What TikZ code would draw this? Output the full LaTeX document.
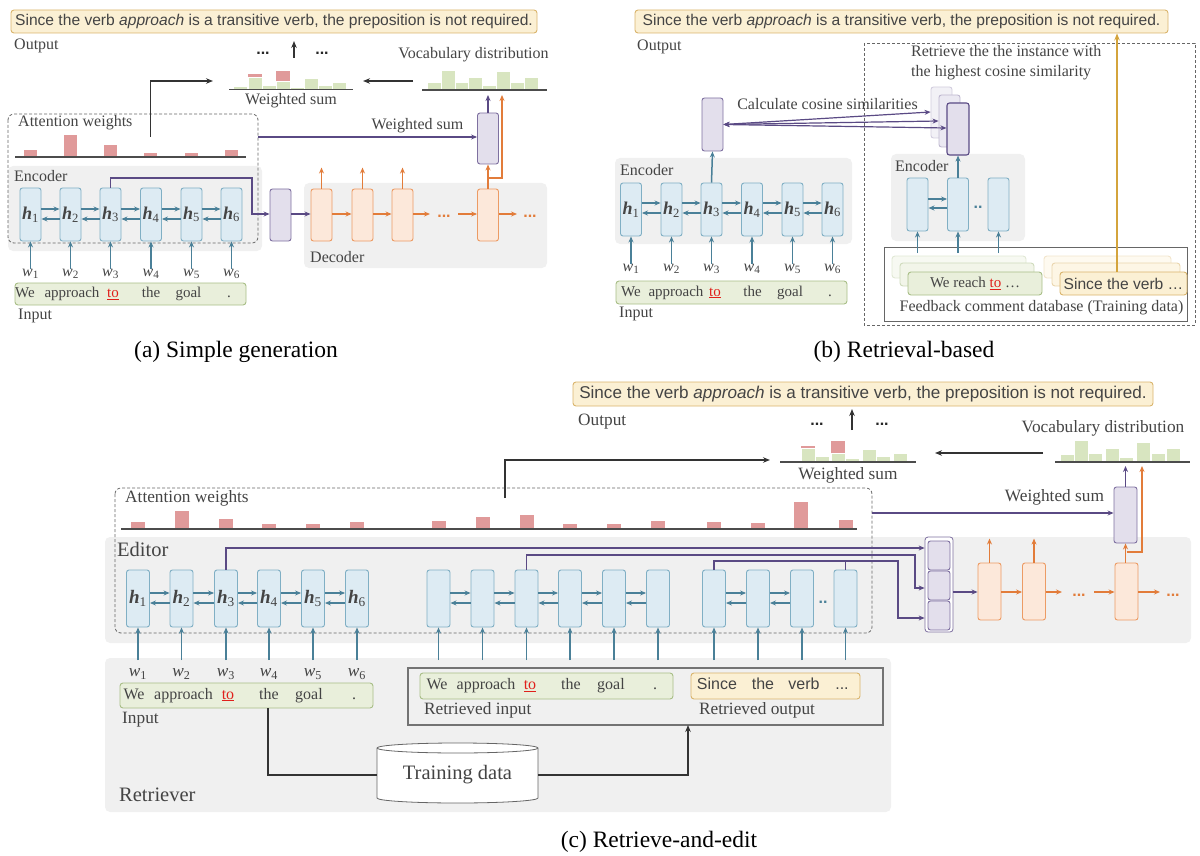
\documentclass[tikz,border=0pt]{standalone}
\usepackage{fontspec}
\setmainfont{Liberation Serif}
\newfontfamily\sansf{Liberation Sans}
\usetikzlibrary{arrows.meta}
\definecolor{bfill}{HTML}{DDEBF3}
\definecolor{bdraw}{HTML}{80AFC4}
\definecolor{barr}{HTML}{4A8098}
\definecolor{pfill}{HTML}{E3DFEC}
\definecolor{pdraw}{HTML}{7E70A0}
\definecolor{parr}{HTML}{5A4A84}
\definecolor{ofill}{HTML}{FCE8DA}
\definecolor{odraw}{HTML}{EC9B64}
\definecolor{oarr}{HTML}{E27C3A}
\definecolor{gpanel}{HTML}{F0F0F0}
\definecolor{gfill}{HTML}{E9EFDB}
\definecolor{gdraw}{HTML}{A8BE86}
\definecolor{yfill}{HTML}{FBF0D4}
\definecolor{ydraw}{HTML}{D9B46C}
\definecolor{yline}{HTML}{D4A43C}
\definecolor{redbar}{HTML}{E09A9A}
\definecolor{grnbar}{HTML}{D8E5C0}
\definecolor{txt}{HTML}{444444}
\definecolor{tored}{HTML}{E0201B}
\definecolor{kline}{HTML}{333333}
\newcommand\szA{\fontsize{16}{20}\selectfont}
\newcommand\szC{\fontsize{17.3}{21}\selectfont}
\newcommand\szW{\fontsize{15}{18}\selectfont}
\newcommand\szB{\fontsize{20.5}{24}\selectfont}
\newcommand\szCap{\fontsize{23.5}{27}\selectfont}
\newcommand\szY{\fontsize{15.6}{18}\selectfont}
\newcommand\szYC{\fontsize{17.1}{20}\selectfont}
\newcommand\szH{\fontsize{18}{20}\selectfont}
\newcommand\szHC{\fontsize{19}{21}\selectfont}
\newcommand\hlab[1]{\textbf{\textit{h}}\textsubscript{#1}}
\newcommand\wlab[1]{\textit{w}\textsubscript{#1}}
\newcommand\redto{\textcolor{tored}{\underline{to}}}
\begin{document}
\begin{tikzpicture}[x=1pt,y=-1pt,
 lab/.style={text=txt, inner sep=0pt, font=\szA},
 labw/.style={lab, anchor=west},
 cellbase/.style={rounded corners=2.5pt, line width=0.9pt, inner sep=0pt, minimum width=21pt, minimum height=53pt, text=txt, font=\szH},
 hcell/.style={cellbase, draw=bdraw, fill=bfill},
 pcell/.style={cellbase, draw=pdraw, fill=pfill},
 ocell/.style={cellbase, draw=odraw, fill=ofill},
 barrow/.style={draw=barr, line width=1.5pt, -{Stealth[length=6pt,width=5pt]}},
 parrow/.style={draw=parr, line width=1.4pt, -{Stealth[length=6pt,width=5pt]}},
 pboth/.style={draw=parr, line width=1.2pt, {Stealth[length=6pt,width=5pt]}-{Stealth[length=6pt,width=5pt]}},
 oarrow/.style={draw=oarr, line width=1.4pt, -{Stealth[length=6pt,width=5pt]}},
 karrow/.style={draw=kline, line width=1.4pt, -{Stealth[length=7pt,width=5.5pt]}},
 ybox/.style={draw=ydraw, fill=yfill, rounded corners=3pt, line width=0.9pt, inner sep=0pt, text=txt},
 gbox/.style={draw=gdraw, fill=gfill, rounded corners=3pt, line width=0.9pt, inner sep=0pt, text=txt},
 panel/.style={fill=gpanel, rounded corners=5pt},
 attbox/.style={draw=black!60, dash pattern=on 3pt off 2pt, line width=0.8pt, rounded corners=6pt},
 axisl/.style={draw=black!70, line width=1.4pt},
 rbar/.style={fill=redbar},
 gbar/.style={fill=grnbar, draw=white, line width=0.4pt},
 word/.style={text=txt, inner sep=0pt, font=\szW, text height=10pt, text depth=3pt},
 dotsty/.style={inner sep=0pt, font=\sansf\bfseries\szA, anchor=base},
 captext/.style={inner sep=0pt, font=\szCap, text=black},
]
\useasboundingbox (0,0) rectangle (1200,856);

% ======================= (a) =======================
\fill[panel] (8,166) rectangle (262,251);
\fill[panel] (304,183) rectangle (547,268);
\draw[attbox] (8,114) rectangle (258,243);
\node[ybox, minimum width=526pt, minimum height=23pt, font=\sansf\szY] (aout) at (274,21.5) {Since the verb \textit{approach} is a transitive verb, the preposition is not required.};
\node[labw] (aoutl) at (14,46) {Output};
\node[dotsty, text=black!85] (adots1) at (263,55) {...};
\node[dotsty, text=black!85] (adots2) at (322,55) {...};
\coordinate (aup1) at (294,58); \coordinate (aup2) at (294,41);
\draw[karrow] (aup1) -- (aup2);
% weighted sum chart
\foreach \x/\t in {233/86,248/77,262/85,276/81,290/87,304/78,318/85,332/82}
  \fill[gbar] (\x,89) rectangle (\x+14,\t);
\fill[rbar] (248,77.3) rectangle (262,74.5);
\fill[rbar] (276,81.3) rectangle (290,71);
\draw[axisl] (229,89.5) -- (353,89.5);
\node[lab] (awsl) at (291,101) {Weighted sum};
% vocabulary chart
\foreach \x/\t in {427/82,441/70,455/82,468/77,482/85,496/71,510/82,524/77}
  \fill[gbar] (\x,89) rectangle (\x+14,\t);
\draw[axisl] (422,90) -- (547,90);
\node[lab] (avdl) at (473.5,55) {Vocabulary distribution};
\coordinate (avl) at (413,81); \coordinate (awr) at (363,81);
\draw[karrow] (avl) -- (awr);
% attention
\node[labw] (aatt) at (18,123) {Attention weights};
\foreach \x/\t in {30.5/150,70.5/135,110.5/145,150.5/153,191/153,231/150}
  \fill[rbar] (\x-6.5,157) rectangle (\x+6.5,\t);
\draw[axisl] (15,157) -- (246,157);
\coordinate (aattp) at (150.5,137);
\coordinate (awsin) at (213,81);
\draw[karrow] (aattp) |- (awsin);
% encoder
\node[labw] (aenc) at (14,176) {Encoder};
\foreach \i/\x in {1/30.5,2/70.5,3/110.5,4/151,5/191.5,6/231.5} {
  \node[hcell] (a\i) at (\x,214.5) {\hlab{\i}};
  \node[lab] (aw\i) at (\x,274) {\wlab{\i}};
  \draw[barrow] (aw\i.north) -- (a\i.south);
}
\foreach \i/\j in {1/2,2/3,3/4,4/5,5/6} {
  \draw[barrow] (a\i.east |- 0,209) -- (a\j.west |- 0,209);
  \draw[barrow] (a\j.west |- 0,219) -- (a\i.east |- 0,219);
}
% input
\node[gbox, minimum width=231pt, minimum height=22pt] (ain) at (130.5,294) {};
\node[word] (aw_a) at (25,294) {We};
\node[word] (aw_b) at (72,294) {approach};
\node[word] (aw_c) at (113,294) {\redto};
\node[word] (aw_d) at (151,294) {the};
\node[word] (aw_e) at (188.5,294) {goal};
\node[word] (aw_f) at (229,294) {.};
\node[labw] (ainl) at (18,316) {Input};
% decoder
\node[pcell, minimum height=52pt] (ap) at (280.5,215) {};
\draw[parrow] (a3.north) |- (252,178) -- (252,214) -- (ap.west |- 0,214);
\node[ocell, minimum height=52pt] (ad1) at (321.5,215) {};
\node[ocell, minimum height=52pt] (ad2) at (362.5,215) {};
\node[ocell, minimum height=52pt] (ad3) at (402.5,215) {};
\node[ocell, minimum height=52pt] (ad4) at (488,215) {};
\draw[parrow] (ap.east |- 0,214) -- (ad1.west |- 0,214);
\draw[oarrow] (ad1.east |- 0,214) -- (ad2.west |- 0,214);
\draw[oarrow] (ad2.east |- 0,214) -- (ad3.west |- 0,214);
\coordinate (ad3r) at (430,214);
\draw[oarrow] (ad3.east |- 0,214) -- (ad3r);
\node[dotsty, text=oarr] (addots1) at (444,218) {...};
\coordinate (ad4l) at (458,214);
\draw[oarrow] (ad4l) -- (ad4.west |- 0,214);
\coordinate (ad4r) at (517,214);
\draw[oarrow] (ad4.east |- 0,214) -- (ad4r);
\node[dotsty, text=oarr] (addots2) at (530,218) {...};
\foreach \n in {ad1,ad2,ad3} \draw[oarrow] (\n.north) -- ++(0,-21);
\node[pcell, minimum height=51pt] (apw) at (488,138.5) {};
\draw[oarrow] (ad4.north) -- (apw.south);
\coordinate (avin2) at (502,95);
\draw[oarrow] (ad4.north |- 0,178) -| (avin2);
\coordinate (avin1) at (488,95);
\draw[parrow] (apw.north) -- (avin1);
\coordinate (aattr) at (258,137);
\draw[parrow] (aattr) -- (apw.west |- 0,137);
\node[lab] (awsl2) at (417.5,126) {Weighted sum};
\node[labw] (adec) at (310,257) {Decoder};
\node[captext] (acap) at (236,352) {(a) Simple generation};

% ======================= (b) =======================
\node[ybox, minimum width=533pt, minimum height=23pt, font=\sansf\szY] (bout) at (901.5,21.5) {Since the verb \textit{approach} is a transitive verb, the preposition is not required.};
\node[labw] (boutl) at (637,47) {Output};
\draw[attbox, rounded corners=0pt] (864,43) rectangle (1195,325);
\node[lab, align=left, anchor=north west] (bret) at (911,45) {Retrieve the the instance with\\the highest cosine similarity};
\fill[panel] (615,158) rectangle (852,244);
\fill[panel] (891,154) rectangle (1025,241);
\node[labw] (benc) at (620,170) {Encoder};
\node[labw] (benc2) at (895,166) {Encoder};
\foreach \i/\x in {1/631,2/671.5,3/711.5,4/752,5/792.5,6/832.5} {
  \node[hcell] (b\i) at (\x,209.5) {\hlab{\i}};
  \node[lab] (bw\i) at (\x,269) {\wlab{\i}};
  \draw[barrow] (bw\i.north) -- (b\i.south);
}
\foreach \i/\j in {1/2,2/3,3/4,4/5,5/6} {
  \draw[barrow] (b\i.east |- 0,203) -- (b\j.west |- 0,203);
  \draw[barrow] (b\j.west |- 0,213) -- (b\i.east |- 0,213);
}
\node[pcell, minimum height=53pt] (bq) at (712.5,124.5) {};
\draw[barrow] (b3.north) -- (bq.south);
\node[lab] (bcos) at (827.5,104) {Calculate cosine similarities};
\node[pcell, fill=pfill!45, draw=pdraw!35, minimum height=51pt] (bk3) at (941.5,112.5) {};
\node[pcell, fill=pfill!70, draw=pdraw!50, minimum height=52pt] (bk2) at (949.5,121) {};
\node[pcell, draw=parr, line width=1.1pt, minimum width=22pt, minimum height=52pt] (bk1) at (958,129) {};
\draw[pboth] (bq.east) -- (bk3.west |- 0,112);
\draw[pboth] (bq.east) -- (bk2.west |- 0,121);
\draw[pboth] (bq.east) -- (bk1.west |- 0,128);
% input
\node[gbox, minimum width=231pt, minimum height=23pt] (bin) at (731.5,292.5) {};
\node[word] (bw_a) at (631,292.5) {We};
\node[word] (bw_b) at (676,292.5) {approach};
\node[word] (bw_c) at (715,292.5) {\redto};
\node[word] (bw_d) at (752.5,292.5) {the};
\node[word] (bw_e) at (790,292.5) {goal};
\node[word] (bw_f) at (830,292.5) {.};
\node[labw] (binl) at (619,314) {Input};
% right encoder
\node[hcell] (c1) at (917.5,204.5) {};
\node[hcell] (c2) at (958,204.5) {};
\node[hcell] (c3) at (998.5,204.5) {};
\draw[barrow] (c1.east |- 0,199) -- (c2.west |- 0,199);
\draw[barrow] (c2.west |- 0,208) -- (c1.east |- 0,208);
\node[dotsty, text=barr] (cdots) at (978,208) {..};
\draw[barrow] (c2.north) -- (bk1.south);
% database
\draw[draw=black!60, line width=0.9pt] (884,247) rectangle (1187,321);
\node[gbox, fill=gfill!35, draw=gdraw!35, minimum width=134pt, minimum height=22pt] (dg3) at (959,267) {};
\node[gbox, fill=gfill!60, draw=gdraw!55, minimum width=134pt, minimum height=23pt] (dg2) at (967,274.5) {};
\node[gbox, minimum width=134pt, minimum height=23pt, font=\szW] (dg1) at (975,283.5) {We reach \redto{} \ldots\hspace{30pt}};
\node[ybox, fill=yfill!35, draw=ydraw!35, minimum width=127pt, minimum height=22pt] (dy3) at (1107.5,267) {};
\node[ybox, fill=yfill!60, draw=ydraw!55, minimum width=128pt, minimum height=23pt] (dy2) at (1116,274.5) {};
\node[ybox, minimum width=127pt, minimum height=23pt, font=\sansf\szY] (dy1) at (1123.5,283.5) {Since the verb \ldots};
\foreach \n in {c1,c2,c3} {
  \coordinate (\n in) at (\n.south |- 0,253);
  \draw[barrow] (\n in) -- (\n.south);
}
\node[lab] (bdb) at (1041.5,308) {Feedback comment database (Training data)};
\draw[draw=yline, line width=1.4pt, -{Stealth[length=7pt,width=5.5pt]}] (dy1.north -| 1117,0) -- (bout.south -| 1117,0);
\node[captext] (bcap) at (904,352) {(b) Retrieval-based};

% ======================= (c) =======================
\node[ybox, minimum width=580pt, minimum height=24pt, font=\sansf\szYC] (cout) at (863,394) {Since the verb \textit{approach} is a transitive verb, the preposition is not required.};
\node[lab, font=\szC, anchor=west] (coutl) at (578,422) {Output};
\node[dotsty, text=black!85] (cdots1) at (817,425) {...};
\node[dotsty, text=black!85] (cdots2) at (882,425) {...};
\coordinate (cup1) at (852,430); \coordinate (cup2) at (852,409);
\draw[karrow] (cup1) -- (cup2);
\foreach \x/\t in {801/448,815/456,831/453,845/458,862/449,876/456,893/453}
  \fill[gbar] (\x,461.5) rectangle (\x+14,\t);
\fill[rbar] (801,448.3) rectangle (815,445.5);
\fill[rbar] (831,453.3) rectangle (845,441);
\draw[axisl] (780,462) -- (916,462);
\node[lab, font=\szC] (cwsl) at (848,475) {Weighted sum};
\foreach \x/\t in {1060/454,1074/440,1088/453,1105/448,1119/457,1136/442,1151/453,1166/448}
  \fill[gbar] (\x,461.5) rectangle (\x+14,\t);
\draw[axisl] (1055,462) -- (1190,462);
\node[lab, font=\szC] (cvdl) at (1103,428) {Vocabulary distribution};
\coordinate (cvl) at (1043,453); \coordinate (cwr) at (935,453);
\draw[karrow] (cvl) -- (cwr);
% panels
\fill[panel] (105,537) rectangle (1191,643);
\fill[panel] (105,658) rectangle (891,812);
\draw[attbox] (115,488) rectangle (872,633);
\node[lab, font=\szC, anchor=west] (catt) at (125,498) {Attention weights};
\coordinate (cattp) at (505,498); \coordinate (cwsin) at (770,460);
\draw[karrow] (cattp) |- (cwsin);
\foreach \x/\t in {138/522,181.5/511,226/519,269/524,313/524,357/522,438.5/521,482.5/517,526.5/515,570/524,614/524,658/521,714/522,758/523,801/502,845.5/520}
  \fill[rbar] (\x-7,528.5) rectangle (\x+7,\t);
\draw[axisl] (121,529) -- (857,529);
\node[lab, font=\szB, anchor=west] (cedit) at (117,549) {Editor};
% editor cells
\foreach \i/\x in {1/138,2/181.5,3/226,4/269,5/313,6/357} {
  \node[hcell, minimum width=23pt, minimum height=57pt, font=\szHC] (e\i) at (\x,598.5) {\hlab{\i}};
  \node[lab, font=\szC] (ew\i) at (\x,674) {\wlab{\i}};
  \draw[barrow] (\x,660) -- (e\i.south);
}
\foreach \i/\x in {1/438.5,2/482.5,3/526.5,4/570,5/614,6/658} {
  \node[hcell, minimum width=23pt, minimum height=57pt] (m\i) at (\x,598.5) {};
  \draw[barrow] (\x,660) -- (m\i.south);
}
\foreach \i/\x in {1/714,2/758,3/802,4/845.5} {
  \node[hcell, minimum width=23pt, minimum height=57pt] (r\i) at (\x,598.5) {};
  \draw[barrow] (\x,660) -- (r\i.south);
}
\foreach \p in {e,m} \foreach \i/\j in {1/2,2/3,3/4,4/5,5/6} {
  \draw[barrow] (\p\i.east |- 0,593) -- (\p\j.west |- 0,593);
  \draw[barrow] (\p\j.west |- 0,603) -- (\p\i.east |- 0,603);
}
\foreach \i/\j in {1/2,2/3} {
  \draw[barrow] (r\i.east |- 0,593) -- (r\j.west |- 0,593);
  \draw[barrow] (r\j.west |- 0,603) -- (r\i.east |- 0,603);
}
\node[dotsty, text=barr] (rdots) at (823,603) {..};
% memory
\node[draw=pdraw, fill=white, rounded corners=3pt, minimum width=28pt, minimum height=95pt, inner sep=0pt, line width=0.8pt] (memo) at (939,584.5) {};
\node[pcell, minimum width=22pt, minimum height=29pt] (mc1) at (939,555.5) {};
\node[pcell, minimum width=22pt, minimum height=29pt] (mc2) at (939,585.5) {};
\node[pcell, minimum width=22pt, minimum height=29pt] (mc3) at (939,615.5) {};
\draw[parrow] (e3.north) |- (memo.west |- 0,548);
\draw[parrow] (m3.north) |- (915,555) |- (memo.west |- 0,588);
\draw[parrow] (r1.north) |- (898,561) |- (memo.west |- 0,618);
\draw[draw=parr, line width=1.4pt] (r4.north) -- (r4.north |- 0,561);
% decoder
\node[ocell, minimum width=23pt, minimum height=57pt] (o1) at (989.5,591.5) {};
\node[ocell, minimum width=23pt, minimum height=57pt] (o2) at (1034,591.5) {};
\node[ocell, minimum width=23pt, minimum height=57pt] (o3) at (1126.5,591.5) {};
\draw[parrow] (memo.east |- 0,592) -- (o1.west |- 0,592);
\draw[oarrow] (o1.east |- 0,592) -- (o2.west |- 0,592);
\coordinate (o2r) at (1062,592);
\draw[oarrow] (o2.east |- 0,592) -- (o2r);
\node[dotsty, text=oarr] (odots1) at (1079,596) {...};
\coordinate (o3l) at (1094,592);
\draw[oarrow] (o3l) -- (o3.west |- 0,592);
\coordinate (o3r) at (1160,592);
\draw[oarrow] (o3.east |- 0,592) -- (o3r);
\node[dotsty, text=oarr] (odots2) at (1173,596) {...};
\foreach \n in {o1,o2} \draw[oarrow] (\n.north) -- ++(0,-24);
\node[pcell, minimum width=23pt, minimum height=56pt] (cq) at (1125.5,515) {};
\draw[oarrow] (o3.north -| cq.south) -- (cq.south);
\coordinate (cvin2) at (1142,466);
\draw[oarrow] (o3.north |- 0,552) -| (cvin2);
\coordinate (cvin1) at (1125.5,466);
\draw[parrow] (cq.north) -- (cvin1);
\coordinate (cattr) at (872,513);
\draw[parrow] (cattr) -- (cq.west |- 0,513);
\node[lab, font=\szC] (cwsl2) at (1054.5,497) {Weighted sum};
% retriever
\node[gbox, minimum width=253pt, minimum height=25pt] (cin) at (246.5,695.5) {};
\node[word, font=\szA] (cw_a) at (134,695.5) {We};
\node[word, font=\szA] (cw_b) at (183.5,695.5) {approach};
\node[word, font=\szA] (cw_c) at (228,695.5) {\redto};
\node[word, font=\szA] (cw_d) at (269,695.5) {the};
\node[word, font=\szA] (cw_e) at (309,695.5) {goal};
\node[word, font=\szA] (cw_f) at (354,695.5) {.};
\node[lab, font=\szC, anchor=west] (cinl) at (122,720) {Input};
\draw[draw=black!55, line width=1.3pt] (408,668) rectangle (883,725);
\node[gbox, minimum width=253pt, minimum height=26pt] (rin) at (546.5,686) {};
\node[word, font=\szA] (rw_a) at (437,686) {We};
\node[word, font=\szA] (rw_b) at (486,686) {approach};
\node[word, font=\szA] (rw_c) at (530,686) {\redto};
\node[word, font=\szA] (rw_d) at (571,686) {the};
\node[word, font=\szA] (rw_e) at (611,686) {goal};
\node[word, font=\szA] (rw_f) at (655,686) {.};
\node[ybox, minimum width=169pt, minimum height=26pt] (rout) at (775.5,686) {};
\node[word, font=\sansf\szA] (ro_a) at (717,686) {Since};
\node[word, font=\sansf\szA] (ro_b) at (763,686) {the};
\node[word, font=\sansf\szA] (ro_c) at (804,686) {verb};
\node[word, font=\sansf\szA] (ro_d) at (842,686) {...};
\node[lab, font=\szC, anchor=west] (rinl) at (424,710) {Retrieved input};
\node[lab, font=\szC, anchor=west] (routl) at (699,710) {Retrieved output};
% cylinder
\draw[draw=black!60, fill=white, line width=0.8pt] (377,748) -- (377,798) arc[start angle=180, end angle=360, x radius=80.5pt, y radius=5pt] -- (538,748) arc[start angle=0, end angle=180, x radius=80.5pt, y radius=5pt] -- cycle;
\draw[draw=black!60, line width=0.8pt] (377,748) arc[start angle=180, end angle=360, x radius=80.5pt, y radius=5pt];
\node[inner sep=0pt, minimum width=161pt, minimum height=50pt, font=\szB, text=txt] (cyl) at (457.5,775) {Training data};
\coordinate (retin) at (688,725);
\draw[draw=kline, line width=1.8pt] (cin.south -| 268,0) |- (cyl.west);
\draw[draw=kline, line width=1.8pt, -{Stealth[length=7pt,width=5.5pt]}] (cyl.east) -| (retin);
\node[lab, font=\szB, anchor=west] (cretr) at (119,795) {Retriever};
\node[captext] (ccap) at (659,842) {(c) Retrieve-and-edit};
\end{tikzpicture}
\end{document}
